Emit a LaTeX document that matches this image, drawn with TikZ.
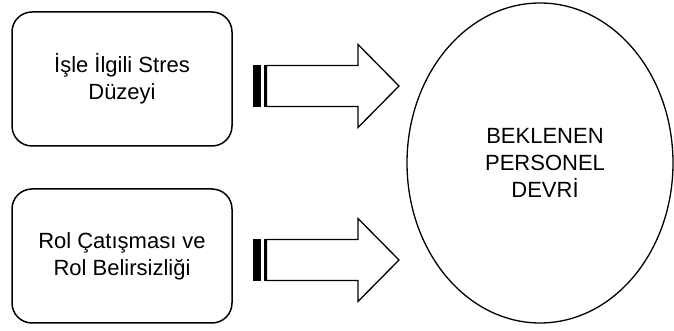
\documentclass[tikz,border=0pt]{standalone}
\usepackage{fontspec}
\setmainfont{Liberation Sans}
\usetikzlibrary{shapes.geometric}

\tikzstyle{factor-box}=[draw, line width=1.5pt, rounded corners=20pt, minimum width=220pt, minimum height=134pt, align=center, font=\fontsize{22}{27}\selectfont]
\tikzstyle{outcome-ellipse}=[draw, ellipse, line width=1.3pt, minimum width=266pt, minimum height=320pt, inner sep=0pt, align=center, font=\fontsize{22}{27}\selectfont]
\tikzstyle{block-arrow}=[draw, line width=1.3pt, fill=white, line join=miter]
\tikzstyle{arrow-stripe}=[draw, fill=black, line width=1pt]

\begin{document}
\begin{tikzpicture}[x=1pt, y=1pt]
      \useasboundingbox (0,0) rectangle (674,331);

      \node (box:stress) at (122,252) [factor-box] {İşle İlgili Stres\\Düzeyi};
      \node (box:role) at (122,75) [factor-box] {Rol Çatışması ve\\Rol Belirsizliği};

      \node (turnover) at (540,168) [outcome-ellipse] {\hspace*{10pt}BEKLENEN\\\hspace*{10pt}PERSONEL\\\hspace*{10pt}DEVRİ};

      % striped arrows
      \foreach \name/\cy in {stress/245, role/71} {
        \draw[block-arrow] (266.5,\cy+20.5) -- (358,\cy+20.5) -- (358,\cy+41.5) -- (399,\cy)
          -- (358,\cy-41.5) -- (358,\cy-20.5) -- (266.5,\cy-20.5) -- cycle;
        \filldraw[arrow-stripe] (253.5,\cy-20.5) rectangle (260.5,\cy+20.5);
        \filldraw[arrow-stripe] (264,\cy-20.5) rectangle (265.5,\cy+20.5);
      }
    \end{tikzpicture}
\end{document}
